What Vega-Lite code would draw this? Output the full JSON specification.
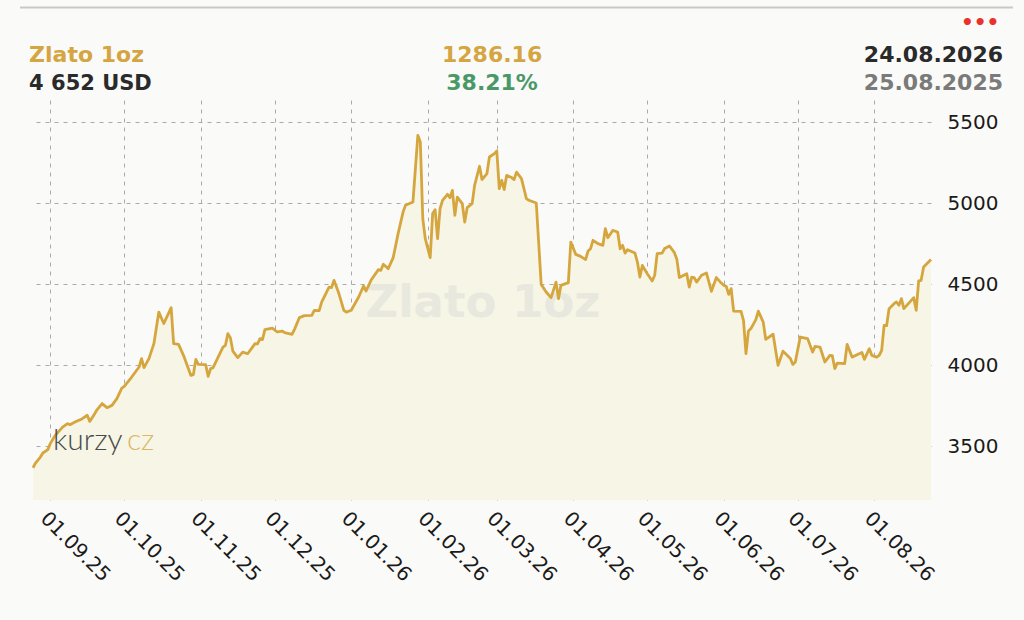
{
  "$schema": "https://vega.github.io/schema/vega-lite/v6.json",
  "width": 898,
  "height": 400,
  "autosize": {"type": "none"},
  "padding": {"left": 33, "top": 100, "right": 93, "bottom": 120},
  "background": "#fafaf8",
  "config": {"view": {"stroke": null}, "font": "DejaVu Sans"},
  "datasets": {
    "gold": [
      {"date": "2025-08-25", "price": 3366}, {"date": "2025-08-26", "price": 3395}, {"date": "2025-08-28", "price": 3432},
      {"date": "2025-08-29", "price": 3457}, {"date": "2025-08-31", "price": 3478}, {"date": "2025-09-01", "price": 3515},
      {"date": "2025-09-03", "price": 3566}, {"date": "2025-09-06", "price": 3617}, {"date": "2025-09-08", "price": 3638},
      {"date": "2025-09-09", "price": 3632}, {"date": "2025-09-11", "price": 3648}, {"date": "2025-09-14", "price": 3669},
      {"date": "2025-09-16", "price": 3690}, {"date": "2025-09-17", "price": 3652}, {"date": "2025-09-19", "price": 3700},
      {"date": "2025-09-20", "price": 3725}, {"date": "2025-09-22", "price": 3762}, {"date": "2025-09-24", "price": 3737},
      {"date": "2025-09-26", "price": 3751}, {"date": "2025-09-28", "price": 3793}, {"date": "2025-09-30", "price": 3858},
      {"date": "2025-10-01", "price": 3869}, {"date": "2025-10-04", "price": 3926}, {"date": "2025-10-07", "price": 3988},
      {"date": "2025-10-08", "price": 4040}, {"date": "2025-10-09", "price": 3984}, {"date": "2025-10-11", "price": 4040},
      {"date": "2025-10-13", "price": 4132}, {"date": "2025-10-15", "price": 4327}, {"date": "2025-10-17", "price": 4256},
      {"date": "2025-10-20", "price": 4354}, {"date": "2025-10-21", "price": 4132}, {"date": "2025-10-23", "price": 4128},
      {"date": "2025-10-25", "price": 4060}, {"date": "2025-10-28", "price": 3936}, {"date": "2025-10-29", "price": 3941},
      {"date": "2025-10-30", "price": 4035}, {"date": "2025-10-31", "price": 4004}, {"date": "2025-11-03", "price": 4002},
      {"date": "2025-11-04", "price": 3930}, {"date": "2025-11-05", "price": 3978}, {"date": "2025-11-06", "price": 3984},
      {"date": "2025-11-10", "price": 4111}, {"date": "2025-11-11", "price": 4122}, {"date": "2025-11-12", "price": 4194},
      {"date": "2025-11-13", "price": 4169}, {"date": "2025-11-14", "price": 4086}, {"date": "2025-11-16", "price": 4046},
      {"date": "2025-11-18", "price": 4080}, {"date": "2025-11-20", "price": 4070}, {"date": "2025-11-23", "price": 4132},
      {"date": "2025-11-24", "price": 4130}, {"date": "2025-11-25", "price": 4163}, {"date": "2025-11-26", "price": 4157},
      {"date": "2025-11-27", "price": 4219}, {"date": "2025-11-30", "price": 4228}, {"date": "2025-12-02", "price": 4204},
      {"date": "2025-12-04", "price": 4210}, {"date": "2025-12-05", "price": 4200}, {"date": "2025-12-08", "price": 4190},
      {"date": "2025-12-09", "price": 4220}, {"date": "2025-12-11", "price": 4293}, {"date": "2025-12-13", "price": 4305},
      {"date": "2025-12-16", "price": 4307}, {"date": "2025-12-17", "price": 4338}, {"date": "2025-12-19", "price": 4336},
      {"date": "2025-12-20", "price": 4389}, {"date": "2025-12-23", "price": 4481}, {"date": "2025-12-24", "price": 4478},
      {"date": "2025-12-25", "price": 4523}, {"date": "2025-12-27", "price": 4441}, {"date": "2025-12-29", "price": 4338},
      {"date": "2025-12-30", "price": 4327}, {"date": "2026-01-01", "price": 4338}, {"date": "2026-01-04", "price": 4420},
      {"date": "2026-01-06", "price": 4488}, {"date": "2026-01-07", "price": 4457}, {"date": "2026-01-09", "price": 4523},
      {"date": "2026-01-12", "price": 4589}, {"date": "2026-01-13", "price": 4585}, {"date": "2026-01-14", "price": 4622},
      {"date": "2026-01-16", "price": 4595}, {"date": "2026-01-18", "price": 4663}, {"date": "2026-01-20", "price": 4811},
      {"date": "2026-01-22", "price": 4944}, {"date": "2026-01-23", "price": 4986}, {"date": "2026-01-26", "price": 5006},
      {"date": "2026-01-28", "price": 5418}, {"date": "2026-01-29", "price": 5377}, {"date": "2026-01-30", "price": 4904},
      {"date": "2026-01-31", "price": 4780}, {"date": "2026-02-02", "price": 4663}, {"date": "2026-02-03", "price": 4935},
      {"date": "2026-02-04", "price": 4959}, {"date": "2026-02-05", "price": 4780}, {"date": "2026-02-06", "price": 4966},
      {"date": "2026-02-07", "price": 5017}, {"date": "2026-02-09", "price": 5054}, {"date": "2026-02-10", "price": 5033},
      {"date": "2026-02-11", "price": 5078}, {"date": "2026-02-12", "price": 4924}, {"date": "2026-02-13", "price": 5037},
      {"date": "2026-02-15", "price": 4996}, {"date": "2026-02-16", "price": 4883}, {"date": "2026-02-17", "price": 4972},
      {"date": "2026-02-19", "price": 4996}, {"date": "2026-02-20", "price": 5109}, {"date": "2026-02-22", "price": 5227},
      {"date": "2026-02-23", "price": 5145}, {"date": "2026-02-25", "price": 5182}, {"date": "2026-02-26", "price": 5284},
      {"date": "2026-02-28", "price": 5305}, {"date": "2026-03-01", "price": 5321}, {"date": "2026-03-02", "price": 5089},
      {"date": "2026-03-03", "price": 5140}, {"date": "2026-03-04", "price": 5083}, {"date": "2026-03-05", "price": 5171},
      {"date": "2026-03-07", "price": 5157}, {"date": "2026-03-08", "price": 5145}, {"date": "2026-03-09", "price": 5191},
      {"date": "2026-03-11", "price": 5151}, {"date": "2026-03-13", "price": 5027}, {"date": "2026-03-14", "price": 5017},
      {"date": "2026-03-17", "price": 5000}, {"date": "2026-03-19", "price": 4498}, {"date": "2026-03-21", "price": 4451},
      {"date": "2026-03-23", "price": 4416}, {"date": "2026-03-25", "price": 4512}, {"date": "2026-03-26", "price": 4410},
      {"date": "2026-03-27", "price": 4492}, {"date": "2026-03-30", "price": 4509}, {"date": "2026-03-31", "price": 4759},
      {"date": "2026-04-02", "price": 4683}, {"date": "2026-04-04", "price": 4671}, {"date": "2026-04-06", "price": 4651},
      {"date": "2026-04-07", "price": 4704}, {"date": "2026-04-08", "price": 4718}, {"date": "2026-04-09", "price": 4770},
      {"date": "2026-04-11", "price": 4749}, {"date": "2026-04-13", "price": 4739}, {"date": "2026-04-14", "price": 4842},
      {"date": "2026-04-15", "price": 4786}, {"date": "2026-04-17", "price": 4831}, {"date": "2026-04-19", "price": 4821},
      {"date": "2026-04-20", "price": 4718}, {"date": "2026-04-21", "price": 4739}, {"date": "2026-04-22", "price": 4691},
      {"date": "2026-04-23", "price": 4712}, {"date": "2026-04-26", "price": 4691}, {"date": "2026-04-27", "price": 4636},
      {"date": "2026-04-28", "price": 4543}, {"date": "2026-04-29", "price": 4615}, {"date": "2026-05-01", "price": 4564},
      {"date": "2026-05-03", "price": 4519}, {"date": "2026-05-04", "price": 4554}, {"date": "2026-05-05", "price": 4688},
      {"date": "2026-05-07", "price": 4691}, {"date": "2026-05-08", "price": 4719}, {"date": "2026-05-10", "price": 4735},
      {"date": "2026-05-12", "price": 4694}, {"date": "2026-05-13", "price": 4651}, {"date": "2026-05-14", "price": 4540},
      {"date": "2026-05-17", "price": 4564}, {"date": "2026-05-18", "price": 4481}, {"date": "2026-05-19", "price": 4543},
      {"date": "2026-05-20", "price": 4540}, {"date": "2026-05-21", "price": 4512}, {"date": "2026-05-23", "price": 4554},
      {"date": "2026-05-25", "price": 4568}, {"date": "2026-05-27", "price": 4455}, {"date": "2026-05-29", "price": 4540},
      {"date": "2026-05-31", "price": 4506}, {"date": "2026-06-01", "price": 4492}, {"date": "2026-06-02", "price": 4486},
      {"date": "2026-06-03", "price": 4436}, {"date": "2026-06-04", "price": 4472}, {"date": "2026-06-05", "price": 4333},
      {"date": "2026-06-08", "price": 4331}, {"date": "2026-06-09", "price": 4276}, {"date": "2026-06-10", "price": 4070},
      {"date": "2026-06-11", "price": 4210}, {"date": "2026-06-12", "price": 4225}, {"date": "2026-06-14", "price": 4280},
      {"date": "2026-06-15", "price": 4333}, {"date": "2026-06-17", "price": 4265}, {"date": "2026-06-18", "price": 4159},
      {"date": "2026-06-21", "price": 4190}, {"date": "2026-06-23", "price": 3998}, {"date": "2026-06-25", "price": 4086},
      {"date": "2026-06-28", "price": 4040}, {"date": "2026-06-29", "price": 4004}, {"date": "2026-06-30", "price": 4019},
      {"date": "2026-07-02", "price": 4173}, {"date": "2026-07-05", "price": 4163}, {"date": "2026-07-07", "price": 4080},
      {"date": "2026-07-08", "price": 4115}, {"date": "2026-07-10", "price": 4111}, {"date": "2026-07-12", "price": 4019},
      {"date": "2026-07-14", "price": 4060}, {"date": "2026-07-15", "price": 4058}, {"date": "2026-07-16", "price": 3978},
      {"date": "2026-07-17", "price": 4012}, {"date": "2026-07-20", "price": 4009}, {"date": "2026-07-21", "price": 4128},
      {"date": "2026-07-23", "price": 4049}, {"date": "2026-07-27", "price": 4077}, {"date": "2026-07-28", "price": 4035},
      {"date": "2026-07-30", "price": 4101}, {"date": "2026-07-31", "price": 4060}, {"date": "2026-08-02", "price": 4049},
      {"date": "2026-08-03", "price": 4060}, {"date": "2026-08-04", "price": 4091}, {"date": "2026-08-05", "price": 4245},
      {"date": "2026-08-06", "price": 4243}, {"date": "2026-08-07", "price": 4348}, {"date": "2026-08-09", "price": 4379},
      {"date": "2026-08-10", "price": 4389}, {"date": "2026-08-11", "price": 4369}, {"date": "2026-08-12", "price": 4410},
      {"date": "2026-08-13", "price": 4348}, {"date": "2026-08-17", "price": 4416}, {"date": "2026-08-18", "price": 4338},
      {"date": "2026-08-19", "price": 4519}, {"date": "2026-08-20", "price": 4523}, {"date": "2026-08-21", "price": 4605},
      {"date": "2026-08-24", "price": 4652}
    ]
  },
  "layer": [
    {
      "data": {"name": "gold"},
      "mark": {"type": "area", "color": "#f6f5e6"},
      "encoding": {
        "x": {
          "field": "date", "type": "temporal", "title": null,
          "scale": {"type": "utc", "nice": false, "domain": [{"year": 2025, "month": 8, "date": 25, "utc": true}, {"year": 2026, "month": 8, "date": 24, "utc": true}]},
          "axis": {
            "format": "%d.%m.%y", "tickCount": {"interval": "month", "step": 1},
            "labelAngle": 45, "labelFontSize": 20, "labelColor": "#1a1a1a", "labelPadding": 8,
            "labelOverlap": false, "labelFlush": false, "ticks": false, "domain": false,
            "grid": true, "gridDash": [4, 5], "gridColor": "#aaaaaa"
          }
        },
        "y": {
          "field": "price", "type": "quantitative", "title": null,
          "scale": {"domain": [3167, 5636], "zero": false, "nice": false},
          "axis": {
            "orient": "right", "values": [3500, 4000, 4500, 5000, 5500], "format": "d",
            "labelFontSize": 20, "labelColor": "#1a1a1a", "labelPadding": 16,
            "ticks": false, "domain": false, "grid": true, "gridDash": [4, 5], "gridColor": "#aaaaaa"
          }
        },
        "y2": {"datum": 3167}
      }
    },
    {
      "data": {"values": [{}]},
      "mark": {"type": "text", "fontSize": 45, "fontWeight": "bold", "color": "#e8e8df", "align": "center", "baseline": "alphabetic"},
      "encoding": {
        "x": {"datum": {"year": 2026, "month": 2, "date": 23, "hours": 10, "utc": true}, "type": "temporal", "title": null,
          "scale": {"type": "utc", "nice": false, "domain": [{"year": 2025, "month": 8, "date": 25, "utc": true}, {"year": 2026, "month": 8, "date": 24, "utc": true}]}},
        "y": {"datum": 4297, "type": "quantitative", "title": null, "scale": {"domain": [3167, 5636], "zero": false, "nice": false}},
        "text": {"value": "Zlato 1oz"}
      }
    },
    {
      "data": {"name": "gold"},
      "mark": {"type": "line", "color": "#d6a63e", "strokeWidth": 2.8, "strokeJoin": "round"},
      "encoding": {
        "x": {"field": "date", "type": "temporal", "title": null,
          "scale": {"type": "utc", "nice": false, "domain": [{"year": 2025, "month": 8, "date": 25, "utc": true}, {"year": 2026, "month": 8, "date": 24, "utc": true}]}},
        "y": {"field": "price", "type": "quantitative", "title": null, "scale": {"domain": [3167, 5636], "zero": false, "nice": false}}
      }
    },
    {
      "data": {"values": [{}]},
      "mark": {"type": "text", "font": "Lato", "fontSize": 30, "fontWeight": 300, "color": "#4a4a4a", "align": "left", "baseline": "alphabetic"},
      "encoding": {
        "x": {"datum": {"year": 2025, "month": 9, "date": 2, "hours": 2, "utc": true}, "type": "temporal", "title": null,
          "scale": {"type": "utc", "nice": false, "domain": [{"year": 2025, "month": 8, "date": 25, "utc": true}, {"year": 2026, "month": 8, "date": 24, "utc": true}]}},
        "y": {"datum": 3476, "type": "quantitative", "title": null, "scale": {"domain": [3167, 5636], "zero": false, "nice": false}},
        "text": {"value": "kurzy"}
      }
    },
    {
      "data": {"values": [{}]},
      "mark": {"type": "text", "font": "Lato", "fontSize": 30, "fontWeight": 300, "color": "#dcb866", "align": "left", "baseline": "alphabetic"},
      "encoding": {
        "x": {"datum": {"year": 2025, "month": 10, "date": 2, "hours": 2, "utc": true}, "type": "temporal", "title": null,
          "scale": {"type": "utc", "nice": false, "domain": [{"year": 2025, "month": 8, "date": 25, "utc": true}, {"year": 2026, "month": 8, "date": 24, "utc": true}]}},
        "y": {"datum": 3476, "type": "quantitative", "title": null, "scale": {"domain": [3167, 5636], "zero": false, "nice": false}},
        "text": {"value": "cz"}
      }
    },
    {
      "data": {"values": [{}]},
      "mark": {"type": "rule", "color": "#c8c8c8", "strokeWidth": 2},
      "encoding": {
        "x": {"datum": {"year": 2025, "month": 8, "date": 19, "hours": 17, "utc": true}, "type": "temporal", "title": null,
          "scale": {"type": "utc", "nice": false, "domain": [{"year": 2025, "month": 8, "date": 25, "utc": true}, {"year": 2026, "month": 8, "date": 24, "utc": true}]}},
        "x2": {"datum": {"year": 2026, "month": 9, "date": 26, "hours": 5, "utc": true}},
        "y": {"datum": 6207, "type": "quantitative", "title": null, "scale": {"domain": [3167, 5636], "zero": false, "nice": false}}
      }
    },
    {
      "data": {"values": [{}]},
      "mark": {"type": "text", "fontSize": 20, "fontWeight": "bold", "color": "#e8322b", "align": "center", "baseline": "middle"},
      "encoding": {
        "x": {"datum": {"year": 2026, "month": 9, "date": 12, "hours": 22, "utc": true}, "type": "temporal", "title": null,
          "scale": {"type": "utc", "nice": false, "domain": [{"year": 2025, "month": 8, "date": 25, "utc": true}, {"year": 2026, "month": 8, "date": 24, "utc": true}]}},
        "y": {"datum": 6111, "type": "quantitative", "title": null, "scale": {"domain": [3167, 5636], "zero": false, "nice": false}},
        "text": {"value": "•••"}
      }
    },
    {
      "data": {"values": [{}]},
      "mark": {"type": "text", "fontSize": 22, "fontWeight": "bold", "color": "#d5a542", "align": "left", "baseline": "alphabetic"},
      "encoding": {
        "x": {"datum": {"year": 2025, "month": 8, "date": 23, "hours": 10, "utc": true}, "type": "temporal", "title": null,
          "scale": {"type": "utc", "nice": false, "domain": [{"year": 2025, "month": 8, "date": 25, "utc": true}, {"year": 2026, "month": 8, "date": 24, "utc": true}]}},
        "y": {"datum": 5871, "type": "quantitative", "title": null, "scale": {"domain": [3167, 5636], "zero": false, "nice": false}},
        "text": {"value": "Zlato 1oz"}
      }
    },
    {
      "data": {"values": [{}]},
      "mark": {"type": "text", "fontSize": 21, "fontWeight": "bold", "color": "#2a2a2a", "align": "left", "baseline": "alphabetic"},
      "encoding": {
        "x": {"datum": {"year": 2025, "month": 8, "date": 23, "hours": 10, "utc": true}, "type": "temporal", "title": null,
          "scale": {"type": "utc", "nice": false, "domain": [{"year": 2025, "month": 8, "date": 25, "utc": true}, {"year": 2026, "month": 8, "date": 24, "utc": true}]}},
        "y": {"datum": 5698, "type": "quantitative", "title": null, "scale": {"domain": [3167, 5636], "zero": false, "nice": false}},
        "text": {"value": "4 652 USD"}
      }
    },
    {
      "data": {"values": [{}]},
      "mark": {"type": "text", "fontSize": 22, "fontWeight": "bold", "color": "#d5a542", "align": "center", "baseline": "alphabetic"},
      "encoding": {
        "x": {"datum": {"year": 2026, "month": 2, "date": 27, "hours": 2, "utc": true}, "type": "temporal", "title": null,
          "scale": {"type": "utc", "nice": false, "domain": [{"year": 2025, "month": 8, "date": 25, "utc": true}, {"year": 2026, "month": 8, "date": 24, "utc": true}]}},
        "y": {"datum": 5871, "type": "quantitative", "title": null, "scale": {"domain": [3167, 5636], "zero": false, "nice": false}},
        "text": {"value": "1286.16"}
      }
    },
    {
      "data": {"values": [{}]},
      "mark": {"type": "text", "fontSize": 22, "fontWeight": "bold", "color": "#4a9868", "align": "center", "baseline": "alphabetic"},
      "encoding": {
        "x": {"datum": {"year": 2026, "month": 2, "date": 27, "hours": 2, "utc": true}, "type": "temporal", "title": null,
          "scale": {"type": "utc", "nice": false, "domain": [{"year": 2025, "month": 8, "date": 25, "utc": true}, {"year": 2026, "month": 8, "date": 24, "utc": true}]}},
        "y": {"datum": 5698, "type": "quantitative", "title": null, "scale": {"domain": [3167, 5636], "zero": false, "nice": false}},
        "text": {"value": "38.21%"}
      }
    },
    {
      "data": {"values": [{}]},
      "mark": {"type": "text", "fontSize": 22, "fontWeight": "bold", "color": "#2a2a2a", "align": "right", "baseline": "alphabetic"},
      "encoding": {
        "x": {"datum": {"year": 2026, "month": 9, "date": 22, "hours": 5, "utc": true}, "type": "temporal", "title": null,
          "scale": {"type": "utc", "nice": false, "domain": [{"year": 2025, "month": 8, "date": 25, "utc": true}, {"year": 2026, "month": 8, "date": 24, "utc": true}]}},
        "y": {"datum": 5871, "type": "quantitative", "title": null, "scale": {"domain": [3167, 5636], "zero": false, "nice": false}},
        "text": {"value": "24.08.2026"}
      }
    },
    {
      "data": {"values": [{}]},
      "mark": {"type": "text", "fontSize": 22, "fontWeight": "bold", "color": "#7a7a7a", "align": "right", "baseline": "alphabetic"},
      "encoding": {
        "x": {"datum": {"year": 2026, "month": 9, "date": 22, "hours": 5, "utc": true}, "type": "temporal", "title": null,
          "scale": {"type": "utc", "nice": false, "domain": [{"year": 2025, "month": 8, "date": 25, "utc": true}, {"year": 2026, "month": 8, "date": 24, "utc": true}]}},
        "y": {"datum": 5698, "type": "quantitative", "title": null, "scale": {"domain": [3167, 5636], "zero": false, "nice": false}},
        "text": {"value": "25.08.2025"}
      }
    }
  ]
}
